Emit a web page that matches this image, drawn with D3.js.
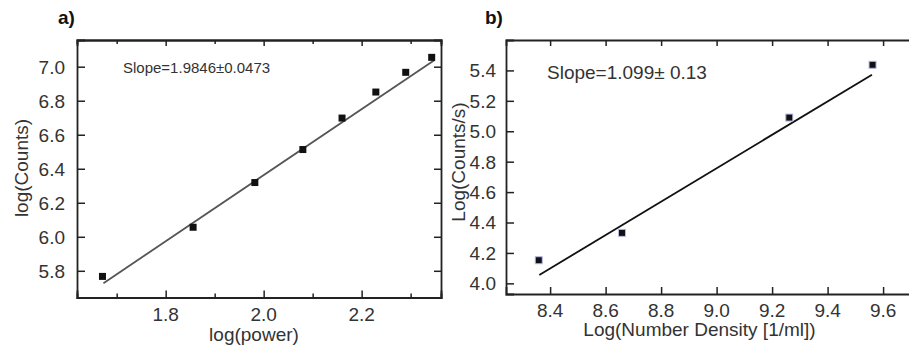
<!DOCTYPE html>
<html>
<head>
<meta charset="utf-8">
<script src="https://cdn.jsdelivr.net/npm/d3@7"></script>
<style>
  body { margin: 0; background: #fff; }
  text { font-family: "Liberation Sans", Arial, sans-serif; fill: #333; }
</style>
</head>
<body>
<div id="chart"></div>
<script>
// panel a) data
const powerA = [1.671, 1.856, 1.982, 2.080, 2.160, 2.229, 2.290, 2.343];
const countsA = [5.767, 6.056, 6.319, 6.513, 6.698, 6.851, 6.967, 7.055];
const fitA = [[1.673, 5.727], [2.349, 7.04]];
const xTicksA = [1.8, 2.0, 2.2];
const xMinorA = [1.7, 1.9, 2.1, 2.3];
const yTicksA = [5.8, 6.0, 6.2, 6.4, 6.6, 6.8, 7.0];

// panel b) data
const densityB = [8.359, 8.659, 9.262, 9.562];
const countsB = [4.152, 4.332, 5.090, 5.437];
const fitB = [[8.361, 4.055], [9.560, 5.372]];
const xTicksB = [8.4, 8.6, 8.8, 9.0, 9.2, 9.4, 9.6];
const yTicksB = [4.0, 4.2, 4.4, 4.6, 4.8, 5.0, 5.2, 5.4];

const width = 909, height = 350;

const svg = d3.select("#chart").append("svg")
  .attr("width", width)
  .attr("height", height);

function drawPanel(p) {
  const x = d3.scaleLinear().domain(p.xDomain).range([p.left, p.right]);
  const y = d3.scaleLinear().domain(p.yDomain).range([p.bottom, p.top]);
  const g = svg.append("g");

  // axes, ticks pointing inward, no labels on top/right
  g.append("g").attr("transform", `translate(0,${p.bottom})`)
    .call(d3.axisTop(x).tickValues(p.xTicks).tickSize(7).tickFormat(""));
  g.append("g").attr("transform", `translate(0,${p.top})`)
    .call(d3.axisBottom(x).tickValues(p.xTicks).tickSize(6).tickFormat(""));
  g.append("g").attr("transform", `translate(${p.left},0)`)
    .call(d3.axisRight(y).tickValues(p.yTicks).tickSize(8).tickFormat(""));
  if (p.boxRight) {
    g.append("g").attr("transform", `translate(${p.right},0)`)
      .call(d3.axisLeft(y).tickValues(p.yTicks).tickSize(7).tickFormat(""));
  }
  if (p.xMinor) {
    g.append("g").attr("transform", `translate(0,${p.bottom})`)
      .call(d3.axisTop(x).tickValues(p.xMinor).tickSize(4).tickFormat(""));
    g.append("g").attr("transform", `translate(0,${p.top})`)
      .call(d3.axisBottom(x).tickValues(p.xMinor).tickSize(4).tickFormat(""));
  }
  g.selectAll(".domain").attr("stroke", "#222").attr("stroke-width", 1.8);
  g.selectAll(".tick line").attr("stroke", "#222").attr("stroke-width", 1.5);

  // tick labels
  g.append("g").selectAll("text")
    .data(p.xTicks)
    .join("text")
      .attr("x", d => x(d))
      .attr("y", p.bottom + 23)
      .attr("text-anchor", "middle")
      .style("font-size", "19px")
      .text(d => d.toFixed(1));
  g.append("g").selectAll("text")
    .data(p.yTicks)
    .join("text")
      .attr("x", p.left - p.yLabelGap)
      .attr("y", d => y(d))
      .attr("dy", "0.36em")
      .attr("text-anchor", "end")
      .style("font-size", "19px")
      .text(d => d.toFixed(1));

  // fit line
  g.append("path")
    .datum(p.fit)
    .attr("fill", "none")
    .attr("stroke", p.fitColor)
    .attr("stroke-width", 1.8)
    .attr("d", d3.line().x(d => x(d[0])).y(d => y(d[1])));

  // points
  g.append("g").selectAll("rect")
    .data(p.xs.map((v, i) => [v, p.ys[i]]))
    .join("rect")
      .attr("x", d => x(d[0]) - 3.5)
      .attr("y", d => y(d[1]) - 3.5)
      .attr("width", 7)
      .attr("height", 7)
      .attr("fill", "#111")
      .attr("stroke", p.markStroke)
      .attr("stroke-width", 1);

  // titles
  g.append("text")
    .attr("x", (p.left + Math.min(p.right, width)) / 2 + p.xTitleShift)
    .attr("y", p.xTitleY)
    .attr("text-anchor", "middle")
    .style("font-size", "19px")
    .text(p.xTitle);
  g.append("text")
    .attr("transform", `translate(${p.yTitleX},${p.yTitleY}) rotate(-90)`)
    .attr("dy", "0.36em")
    .attr("text-anchor", "middle")
    .style("font-size", "19px")
    .text(p.yTitle);

  g.append("text")
    .attr("x", p.slopeX)
    .attr("y", p.slopeY)
    .style("font-size", p.slopeSize)
    .text(p.slope);

  g.append("text")
    .attr("x", p.tagX)
    .attr("y", 24)
    .style("font-size", "19px")
    .style("font-weight", "bold")
    .style("fill", "#111")
    .text(p.tag);
}

drawPanel({
  xs: powerA, ys: countsA, fit: fitA,
  xDomain: [1.619, 2.362], yDomain: [5.643, 7.157],
  left: 77, right: 441, top: 40, bottom: 297.5,
  xTicks: xTicksA, xMinor: xMinorA, yTicks: yTicksA, boxRight: true,
  yLabelGap: 12, fitColor: "#555", markStroke: "none",
  xTitle: "log(power)", xTitleY: 341, xTitleShift: -5,
  yTitle: "log(Counts)", yTitleX: 21, yTitleY: 168,
  slope: "Slope=1.9846\u00b10.0473", slopeX: 123, slopeY: 73, slopeSize: "15px",
  tag: "a)", tagX: 58
});

drawPanel({
  xs: densityB, ys: countsB, fit: fitB,
  xDomain: [8.241, 9.715], yDomain: [3.93, 5.60],
  left: 506, right: 915, top: 40, bottom: 294,
  xTicks: xTicksB, xMinor: null, yTicks: yTicksB, boxRight: false,
  yLabelGap: 10, fitColor: "#111", markStroke: "#b8b8e8",
  xTitle: "Log(Number Density [1/ml])", xTitleY: 336, xTitleShift: -8,
  yTitle: "Log(Counts/s)", yTitleX: 458, yTitleY: 162,
  slope: "Slope=1.099\u00b1 0.13", slopeX: 547, slopeY: 79, slopeSize: "19px",
  tag: "b)", tagX: 485
});
</script>
</body>
</html>
